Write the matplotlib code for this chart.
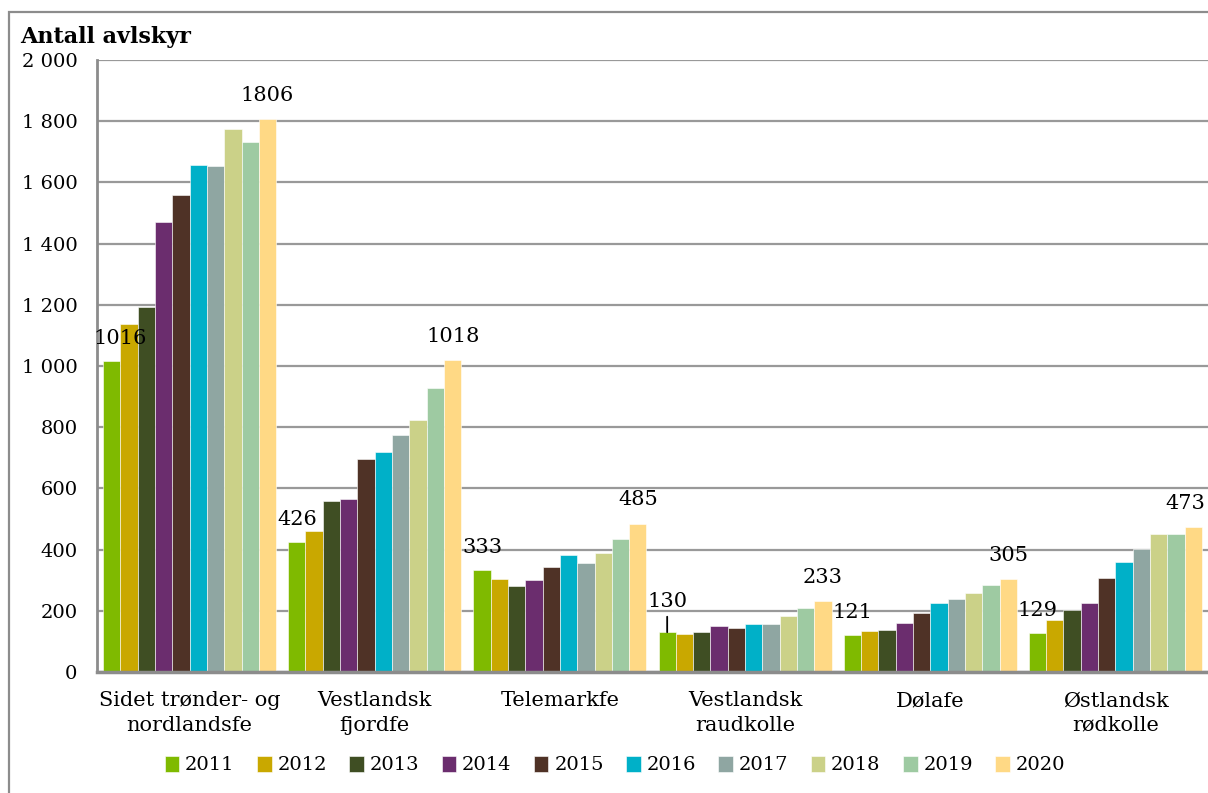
import matplotlib
matplotlib.use("Agg")
import matplotlib.pyplot as plt
from matplotlib.patches import Rectangle
from matplotlib.ticker import FuncFormatter, MultipleLocator
from matplotlib.font_manager import FontProperties
import numpy as np

categories = ["Sidet trønder- og\nnordlandsfe", "Vestlandsk\nfjordfe", "Telemarkfe",
              "Vestlandsk\nraudkolle", "Dølafe", "Østlandsk\nrødkolle"]
years = ["2011", "2012", "2013", "2014", "2015", "2016", "2017", "2018", "2019", "2020"]

v2011 = [1016, 426, 333, 130, 121, 129]
v2012 = [1138, 460, 304, 123, 134, 170]
v2013 = [1194, 558, 280, 132, 137, 203]
v2014 = [1471, 564, 302, 149, 160, 226]
v2015 = [1558, 695, 342, 143, 192, 306]
v2016 = [1657, 719, 383, 157, 226, 359]
v2017 = [1655, 775, 355, 156, 240, 402]
v2018 = [1775, 824, 388, 183, 258, 452]
v2019 = [1732, 929, 435, 209, 285, 452]
v2020 = [1806, 1018, 485, 233, 305, 473]

series = [v2011, v2012, v2013, v2014, v2015, v2016, v2017, v2018, v2019, v2020]
colors = ["#7FBA00", "#C9A800", "#3F4E23", "#6B2D6E", "#4F3226",
          "#00B0C8", "#8FA6A2", "#CBD188", "#9ECAA2", "#FFD985"]

plt.rcParams['font.family'] = ['DejaVu Serif']

fig = plt.figure(figsize=(12.08, 7.93), dpi=100)
W, H = 1208, 793
ax = fig.add_axes([97 / W, 1 - 672 / H, 1 - 97 / W, (672 - 60) / H])

n = len(series)
bw = 0.0935
x = np.arange(len(categories))
bars_all = []
for i, (vals, c, yr) in enumerate(zip(series, colors, years)):
    offs = (i - (n - 1) / 2) * bw
    b = ax.bar(x + offs, vals, width=bw, color=c, label=yr, zorder=3,
               edgecolor='white', linewidth=0.4)
    bars_all.append(b)

ax.set_xlim(-0.5, len(categories) - 0.5)
ax.set_ylim(0, 2000)
ax.yaxis.set_major_locator(MultipleLocator(200))
ax.yaxis.set_major_formatter(FuncFormatter(lambda v, p: f"{int(v):,}".replace(",", " ")))
ax.grid(axis='y', color='#999999', linewidth=1.6, zorder=0)
ax.set_axisbelow(True)
for s in ['top', 'right']:
    ax.spines[s].set_visible(False)
ax.spines['left'].set_color('#8c8c8c')
ax.spines['left'].set_linewidth(2)
ax.spines['bottom'].set_color('#8c8c8c')
ax.spines['bottom'].set_linewidth(2.5)
ax.spines['bottom'].set_zorder(5)
ax.tick_params(axis='y', length=0, pad=14, labelsize=14)
ax.tick_params(axis='x', length=0, pad=14, labelsize=15)
ax.set_xticks(x)
ax.set_xticklabels(categories, linespacing=1.35)

# data labels for first and last bar of each group
for j in range(len(categories)):
    b = bars_all[0][j]
    cx = b.get_x() + b.get_width() / 2
    if j == 3:
        ax.annotate(f"{v2011[j]}", xy=(cx, v2011[j]), xytext=(0, 22),
                    textcoords='offset points', ha='center', va='center', fontsize=15,
                    arrowprops=dict(arrowstyle='-', color='black', lw=1.3,
                                    shrinkA=2, shrinkB=0))
    else:
        dx = 6 if j == 0 else 0
        ax.annotate(f"{v2011[j]}", xy=(cx, v2011[j]), xytext=(dx, 16),
                    textcoords='offset points', ha='center', va='center', fontsize=15)
    b = bars_all[-1][j]
    cx = b.get_x() + b.get_width() / 2
    dx = -6 if j == len(categories) - 1 else 0
    ax.annotate(f"{v2020[j]}", xy=(cx, v2020[j]), xytext=(dx, 17),
                textcoords='offset points', ha='center', va='center', fontsize=15)

fig.text(20 / W, 1 - 37 / H, "Antall avlskyr", fontsize=16, fontweight='bold',
         ha='left', va='center')

leg = fig.legend(loc='center', bbox_to_anchor=(615 / W, 1 - 765 / H), ncol=10,
                 frameon=False, prop=FontProperties(family='DejaVu Serif', size=14),
                 handlelength=0.75, handleheight=0.9,
                 handletextpad=0.3, columnspacing=1.15, borderaxespad=0)

# outer frame
fig.add_artist(Rectangle((9 / W, -0.1), 2, 1.1 - 12 / H, transform=fig.transFigure,
                         fill=False, edgecolor='#8c8c8c', linewidth=1.6))

fig.savefig("out.png", dpi=100)
